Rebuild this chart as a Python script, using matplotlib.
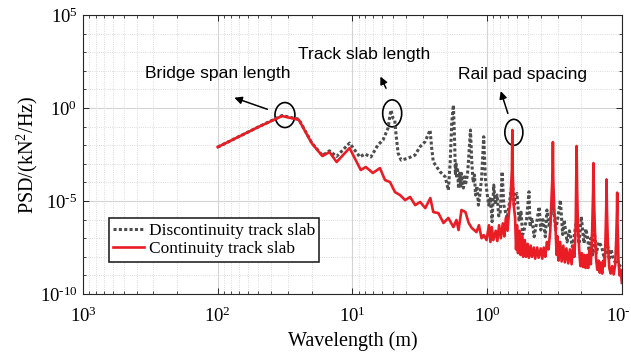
import numpy as np
import matplotlib
matplotlib.use("Agg")
import matplotlib.pyplot as plt
from matplotlib.patches import Ellipse
from matplotlib.ticker import FixedLocator, FuncFormatter, LogLocator, NullFormatter

# wavelength (m) and log10 of PSD (kN^2/Hz)
red_wavelength = [100, 50, 33.3, 25, 20, 16.7, 14.8, 13.1, 10.5, 8.67, 7.96, 7.05, 6.25, 5.73,
                  5.26, 4.83, 4.43, 4.06, 3.73, 3.42, 3.14, 2.88, 2.64, 2.51, 2.30, 2.11, 1.94,
                  1.78, 1.69, 1.63, 1.55, 1.45, 1.37, 1.30, 1.20, 1.15, 1.10, 1.06, 1.01, 0.97,
                  0.945, 0.924, 0.90, 0.863, 0.84, 0.815, 0.791, 0.765, 0.745, 0.726, 0.705,
                  0.689, 0.67, 0.655, 0.65, 0.645, 0.635, 0.62, 0.61, 0.60, 0.59, 0.575, 0.565,
                  0.55, 0.54, 0.525, 0.515, 0.50, 0.49, 0.475, 0.465, 0.45, 0.44, 0.425, 0.415,
                  0.40, 0.39, 0.38, 0.37, 0.36, 0.35, 0.34, 0.333, 0.327, 0.325, 0.323, 0.318,
                  0.31, 0.305, 0.30, 0.295, 0.287, 0.28, 0.272, 0.265, 0.258, 0.25, 0.243, 0.236,
                  0.23, 0.225, 0.22, 0.218, 0.2167, 0.215, 0.212, 0.207, 0.203, 0.198, 0.194,
                  0.19, 0.186, 0.182, 0.178, 0.174, 0.17, 0.166, 0.1635, 0.1625, 0.161, 0.158,
                  0.155, 0.152, 0.149, 0.146, 0.143, 0.14, 0.137, 0.134, 0.132, 0.1305, 0.13,
                  0.129, 0.127, 0.124, 0.121, 0.118, 0.115, 0.112, 0.11, 0.1087, 0.1083, 0.1078,
                  0.106, 0.104, 0.102, 0.10]
red_log_psd = [-2.10, -1.02, -0.43, -0.63, -1.90, -2.58, -2.37, -2.90, -2.15, -3.33, -3.17, -3.49,
               -3.23, -3.87, -3.98, -4.52, -4.68, -4.95, -4.78, -5.22, -5.05, -5.38, -4.84, -5.59,
               -5.65, -6.18, -5.91, -6.40, -6.02, -6.56, -5.48, -5.59, -6.18, -6.45, -6.67, -6.30,
               -7.00, -6.83, -7.10, -6.30, -7.20, -6.40, -7.10, -6.60, -7.15, -6.30, -7.00, -6.20,
               -6.90, -5.90, -6.60, -5.60, -4.90, -3.30, -1.18, -3.60, -5.20, -5.90, -7.60, -6.30,
               -7.80, -6.60, -7.90, -6.90, -8.00, -7.10, -8.00, -7.30, -8.05, -7.40, -8.00, -7.50,
               -8.10, -7.50, -8.05, -7.55, -8.10, -7.50, -8.00, -7.20, -7.60, -6.60, -5.00, -3.50,
               -1.83, -3.80, -5.40, -6.60, -7.90, -6.90, -8.20, -7.20, -8.25, -7.40, -8.30, -7.55,
               -8.35, -7.60, -8.40, -7.40, -8.00, -6.30, -4.00, -2.04, -4.20, -6.30, -7.70, -8.50,
               -7.80, -8.55, -7.90, -8.60, -7.90, -8.60, -7.60, -8.40, -6.50, -4.50, -2.96, -4.90,
               -6.90, -8.20, -8.70, -8.20, -8.85, -8.30, -8.90, -8.20, -8.50, -6.80, -5.20, -3.84,
               -5.50, -7.30, -8.60, -8.90, -8.50, -8.95, -8.40, -7.00, -5.50, -4.55, -6.00, -8.20,
               -9.00, -8.70, -9.40]

gray_wavelength = [100, 50, 33.3, 25, 20, 16.7, 14.8, 13.1, 11.8, 10.5, 8.81, 8.09, 7.29, 6.47,
                   5.93, 5.44, 5.26, 5.17, 5.0, 4.85, 4.74, 4.58, 4.35, 4.1, 3.85, 3.43, 3.15,
                   2.89, 2.65, 2.58, 2.51, 2.37, 2.24, 2.05, 1.94, 1.88, 1.83, 1.78, 1.74, 1.72,
                   1.70, 1.68, 1.66, 1.63, 1.60, 1.57, 1.55, 1.50, 1.47, 1.45, 1.40, 1.38, 1.33,
                   1.30, 1.27, 1.24, 1.22, 1.19, 1.16, 1.13, 1.10, 1.06, 1.03, 1.00, 0.973, 0.945,
                   0.919, 0.893, 0.87, 0.844, 0.82, 0.80, 0.774, 0.752, 0.73, 0.71, 0.68, 0.65,
                   0.63, 0.618, 0.60, 0.58, 0.56, 0.545, 0.532, 0.51, 0.489, 0.48, 0.465, 0.448,
                   0.43, 0.411, 0.40, 0.385, 0.37, 0.36, 0.345, 0.325, 0.31, 0.30, 0.286, 0.275,
                   0.268, 0.255, 0.245, 0.233, 0.225, 0.2167, 0.208, 0.200, 0.191, 0.185, 0.18,
                   0.175, 0.17, 0.165, 0.16, 0.155, 0.148, 0.141, 0.135, 0.127, 0.124, 0.12,
                   0.117, 0.112, 0.108, 0.104, 0.10]
gray_log_psd = [-2.10, -1.02, -0.40, -0.60, -1.88, -2.55, -2.30, -2.60, -2.26, -1.88, -2.63, -2.47,
                -2.63, -1.99, -1.72, -1.08, -0.38, -0.11, -0.54, -0.65, -1.45, -2.42, -2.80, -2.75,
                -2.69, -2.53, -2.08, -1.81, -1.18, -2.15, -2.89, -3.16, -3.42, -3.69, -4.41, -2.89,
                -0.74, 0.16, -2.00, -3.60, -3.00, -3.78, -3.20, -4.32, -3.50, -4.20, -3.51, -4.30,
                -3.70, -4.14, -3.60, -3.00, -1.18, -2.89, -4.00, -3.60, -4.68, -4.20, -5.22, -4.60,
                -3.80, -1.54, -3.78, -4.60, -5.22, -4.80, -6.11, -4.14, -5.20, -4.68, -5.80, -5.60,
                -3.42, -5.22, -5.60, -5.93, -5.00, -3.90, -5.20, -4.68, -4.59, -6.02, -5.60, -6.80,
                -6.56, -6.00, -4.50, -6.38, -5.90, -6.92, -6.20, -5.31, -6.56, -6.00, -6.92, -5.48,
                -6.40, -5.00, -6.56, -6.00, -4.95, -6.80, -6.02, -7.20, -6.60, -7.46, -6.80, -6.00,
                -7.30, -5.84, -7.27, -6.50, -6.92, -7.70, -7.00, -7.90, -6.56, -7.81, -7.20, -7.46,
                -8.10, -7.46, -8.17, -7.60, -7.99, -8.30, -8.17, -8.50, -8.35]

labels = ["Discontinuity track slab", "Continuity track slab"]


def power_label(value, pos):
    # MATLAB style 10^n with a plain hyphen for negative powers
    e = int(round(np.log10(value)))
    if e < 0:
        return r"$10^{\text{-}%d}$" % abs(e)
    return r"$10^{%d}$" % e


def setup_axes(fig):
    ax = fig.add_axes([0.1315, 0.181, 0.854, 0.777])
    ax.set_xscale("log")
    ax.set_yscale("log")
    ax.set_xlim(1e3, 1e-1)
    ax.set_ylim(1e-10, 1e5)
    ax.yaxis.set_major_locator(FixedLocator([1e-10, 1e-5, 1e0, 1e5]))
    ax.yaxis.set_minor_locator(FixedLocator([10.0 ** k for k in range(-10, 6)]))
    ax.yaxis.set_minor_formatter(NullFormatter())
    ax.yaxis.set_major_formatter(FuncFormatter(power_label))
    ax.xaxis.set_major_locator(LogLocator(base=10, numticks=10))
    ax.xaxis.set_minor_locator(LogLocator(base=10, subs=np.arange(2, 10), numticks=20))
    ax.xaxis.set_minor_formatter(NullFormatter())
    ax.xaxis.set_major_formatter(FuncFormatter(power_label))
    ax.tick_params(which="both", direction="in", top=True, right=True, color="#262626")
    ax.tick_params(which="major", length=4, width=0.7, labelsize=13.5)
    ax.tick_params(axis="x", which="major", pad=9)
    ax.tick_params(axis="y", which="major", pad=4)
    ax.tick_params(which="minor", length=2.5, width=0.6)
    ax.grid(which="major", color="#d4d4d4", lw=0.8, ls="-")
    ax.grid(which="minor", color="#d0d0d0", lw=0.6, ls=":")
    ax.set_axisbelow(True)
    for sp in ax.spines.values():
        sp.set_color("#262626")
        sp.set_linewidth(0.8)
    return ax


def draw_psd(ax):
    ax.plot(gray_wavelength, 10.0 ** np.array(gray_log_psd), color="#4d4d4d",
            ls=(0, (1.0, 0.75)), lw=2.2, label=labels[0])
    ax.plot(red_wavelength, 10.0 ** np.array(red_log_psd), color="#ea1c24",
            lw=1.9, label=labels[1])
    ax.set_xlabel("Wavelength (m)", fontsize=14.5, labelpad=4)
    ax.set_ylabel("PSD/(kN$^2$/Hz)", fontsize=14.5, labelpad=0)
    leg = ax.legend(loc="upper left", bbox_to_anchor=(0.048, 0.272), fontsize=12.5,
                    fancybox=False, framealpha=1, edgecolor="#262626", borderpad=0.25,
                    handlelength=1.8, handletextpad=0.25, labelspacing=0.15, borderaxespad=0)
    leg.get_frame().set_linewidth(1.2)


def draw_notes(ax):
    notes = [("Bridge span length", (0.115, 0.789), (0.347, 0.659), (0.276, 0.707),
              (0.3748, 0.6416), 0.037, 0.0896),
             ("Track slab length", (0.399, 0.857), (0.5646, 0.7287), (0.5497, 0.7885),
              (0.5738, 0.6477), 0.0353, 0.0968),
             ("Rail pad spacing", (0.696, 0.787), (0.790, 0.638), (0.7737, 0.737),
              (0.7996, 0.5796), 0.0334, 0.0932)]
    for text, pos, tail, head, center, w, h in notes:
        ax.text(pos[0], pos[1], text, transform=ax.transAxes, fontsize=12.6,
                family="Liberation Sans", ha="left", va="center")
        ax.annotate("", xy=head, xytext=tail, xycoords="axes fraction",
                    arrowprops=dict(arrowstyle="-|>", color="k", lw=1.1, mutation_scale=11))
        ax.add_patch(Ellipse(center, w, h, transform=ax.transAxes, fill=False,
                             ec="k", lw=1.2))


def main():
    plt.rcParams["font.family"] = ["Liberation Serif", "DejaVu Serif"]
    plt.rcParams["mathtext.fontset"] = "custom"
    plt.rcParams["mathtext.rm"] = "Liberation Serif"
    plt.rcParams["mathtext.it"] = "Liberation Serif:italic"
    plt.rcParams["mathtext.default"] = "regular"
    plt.rcParams["axes.unicode_minus"] = False
    fig = plt.figure(figsize=(6.31, 3.59), dpi=100)
    ax = setup_axes(fig)
    draw_psd(ax)
    draw_notes(ax)
    fig.savefig("out.png", dpi=100)


if __name__ == "__main__":
    main()
